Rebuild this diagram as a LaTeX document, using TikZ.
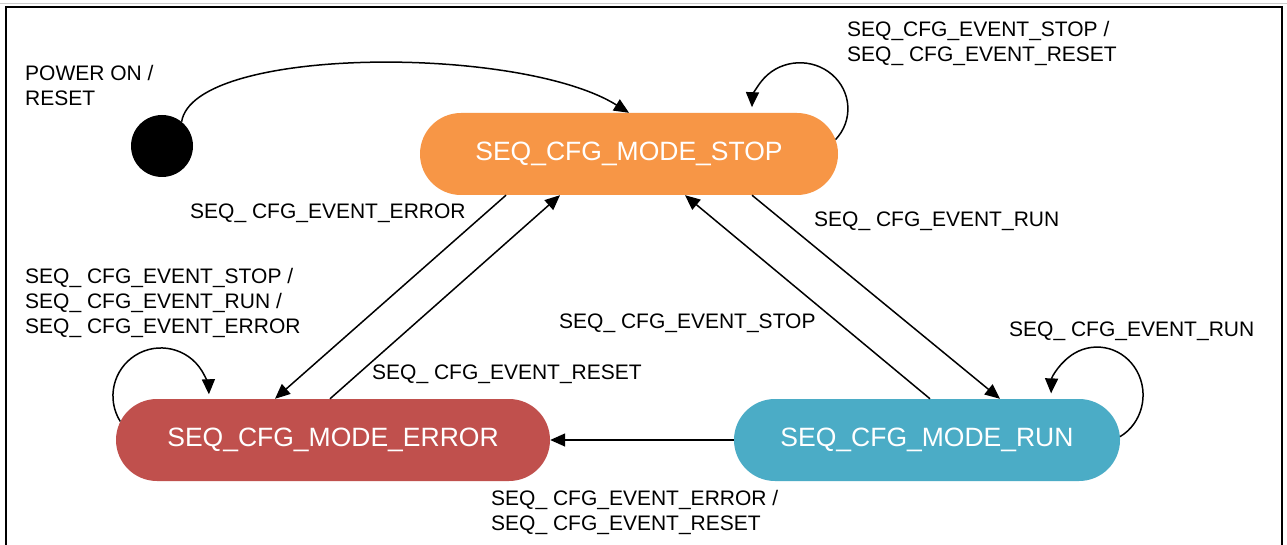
\documentclass[tikz,border=0pt]{standalone}
\usepackage{fontspec}
\setmainfont{Liberation Sans}
\usetikzlibrary{arrows.meta,shapes.misc}
\definecolor{stopc}{HTML}{F79646}
\definecolor{errc}{HTML}{C0504D}
\definecolor{runc}{HTML}{4BACC6}
\tikzset{
  state/.style={rounded rectangle, draw=none, minimum height=82pt, text=white,
    font=\fontsize{26.5}{30}\selectfont, inner sep=0pt},
  lbl/.style={anchor=west, inner sep=0pt, align=left, font=\fontsize{21}{25}\selectfont},
  edge/.style={line width=1.5pt, -{Triangle[length=15pt,width=13pt]}},
}
\begin{document}
\begin{tikzpicture}[x=1pt,y=-1pt]
\clip (0,0) rectangle (1287,545);
\fill[white] (0,0) rectangle (1287,545);
\draw[gray!40, line width=1pt] (0,3.5) -- (1287,3.5);
\draw[line width=2pt] (6,7) rectangle (1282,570);

\node[state, fill=stopc, minimum width=418pt] (stop) at (629,154) {SEQ\_CFG\_MODE\_STOP};
\node[state, fill=errc, minimum width=434pt] (error) at (333,440) {SEQ\_CFG\_MODE\_ERROR};
\node[state, fill=runc, minimum width=386pt] (run) at (927,440) {SEQ\_CFG\_MODE\_RUN};
\node[circle, fill=black, minimum size=62pt, inner sep=0pt] (init) at (162,146) {};

\node[lbl] (lpow) at (25,85) {POWER ON /\\RESET};
\node[lbl] (lstoploop) at (847,43) {SEQ\_CFG\_EVENT\_STOP /\\SEQ\_ CFG\_EVENT\_RESET};
\node[lbl] (lserr) at (190,213) {SEQ\_ CFG\_EVENT\_ERROR};
\node[lbl] (lsrun) at (814,221) {SEQ\_ CFG\_EVENT\_RUN};
\node[lbl] (lerrloop) at (25,303) {SEQ\_ CFG\_EVENT\_STOP /\\SEQ\_ CFG\_EVENT\_RUN /\\SEQ\_ CFG\_EVENT\_ERROR};
\node[lbl] (lrstop) at (559,323) {SEQ\_ CFG\_EVENT\_STOP};
\node[lbl] (lrunloop) at (1009,331) {SEQ\_ CFG\_EVENT\_RUN};
\node[lbl] (lereset) at (372,374) {SEQ\_ CFG\_EVENT\_RESET};
\node[lbl] (lrerr) at (491,512) {SEQ\_ CFG\_EVENT\_ERROR /\\SEQ\_ CFG\_EVENT\_RESET};

% initial
\draw[edge] (init.51) .. controls +(12,-76) and +(-109,-68) .. (stop.north);
% self loops
\draw[edge] (stop.4) arc[start angle=42, end angle=-178, x radius=48, y radius=46];
\draw[edge] (error.175) arc[start angle=148, end angle=358, x radius=48, y radius=48];
\draw[edge] (run.1) arc[start angle=60, end angle=-178, x radius=46, y radius=48];
% straight edges
\draw[edge] ([xshift=-123pt]stop.south) -- ([xshift=-58pt]error.north);
\draw[edge] ([xshift=-3pt]error.north) -- ([xshift=-69pt]stop.south);
\draw[edge] ([xshift=123pt]stop.south) -- ([xshift=73pt]run.north);
\draw[edge] ([xshift=3pt]run.north) -- ([xshift=56pt]stop.south);
\draw[edge] (run.west) -- (error.east);
\end{tikzpicture}
\end{document}
